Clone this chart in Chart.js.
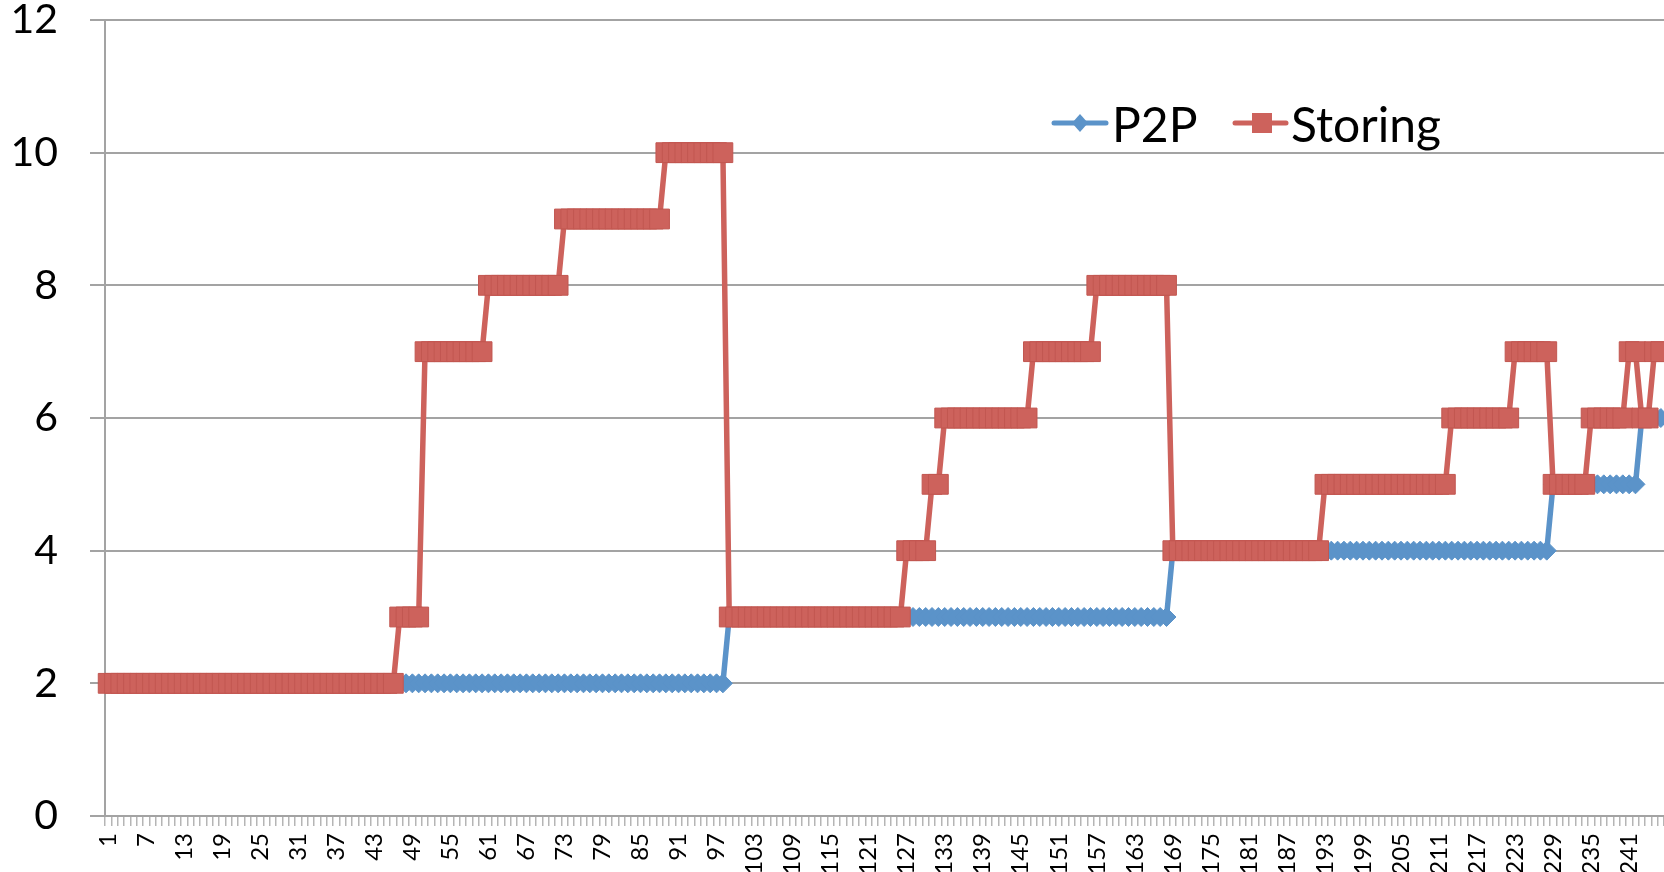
<!DOCTYPE html>
<html>
<head>
<meta charset="utf-8">
<script src="https://cdn.jsdelivr.net/npm/chart.js@4.4.1/dist/chart.umd.min.js"></script>
<style>
    html, body { margin: 0; padding: 0; background: #fff; overflow: hidden; }
    #wrap { width: 1664px; height: 872px; position: relative; }
</style>
</head>
<body>
<div id="wrap"><canvas id="chart"></canvas></div>
<script>
// Categories 1..246 (x axis is a plain counter)
const categories = Array.from({ length: 246 }, (_, i) => String(i + 1));

// P2P series (10 values per row)
const p2pValues = [
    2, 2, 2, 2, 2, 2, 2, 2, 2, 2,
    2, 2, 2, 2, 2, 2, 2, 2, 2, 2,
    2, 2, 2, 2, 2, 2, 2, 2, 2, 2,
    2, 2, 2, 2, 2, 2, 2, 2, 2, 2,
    2, 2, 2, 2, 2, 2, 2, 2, 2, 2,
    2, 2, 2, 2, 2, 2, 2, 2, 2, 2,
    2, 2, 2, 2, 2, 2, 2, 2, 2, 2,
    2, 2, 2, 2, 2, 2, 2, 2, 2, 2,
    2, 2, 2, 2, 2, 2, 2, 2, 2, 2,
    2, 2, 2, 2, 2, 2, 2, 2, 3, 3,
    3, 3, 3, 3, 3, 3, 3, 3, 3, 3,
    3, 3, 3, 3, 3, 3, 3, 3, 3, 3,
    3, 3, 3, 3, 3, 3, 3, 3, 3, 3,
    3, 3, 3, 3, 3, 3, 3, 3, 3, 3,
    3, 3, 3, 3, 3, 3, 3, 3, 3, 3,
    3, 3, 3, 3, 3, 3, 3, 3, 3, 3,
    3, 3, 3, 3, 3, 3, 3, 3, 4, 4,
    4, 4, 4, 4, 4, 4, 4, 4, 4, 4,
    4, 4, 4, 4, 4, 4, 4, 4, 4, 4,
    4, 4, 4, 4, 4, 4, 4, 4, 4, 4,
    4, 4, 4, 4, 4, 4, 4, 4, 4, 4,
    4, 4, 4, 4, 4, 4, 4, 4, 4, 4,
    4, 4, 4, 4, 4, 4, 4, 4, 5, 5,
    5, 5, 5, 5, 5, 5, 5, 5, 5, 5,
    5, 5, 6, 6, 6, 6
];

// Storing series
const storingValues = [
    2, 2, 2, 2, 2, 2, 2, 2, 2, 2,
    2, 2, 2, 2, 2, 2, 2, 2, 2, 2,
    2, 2, 2, 2, 2, 2, 2, 2, 2, 2,
    2, 2, 2, 2, 2, 2, 2, 2, 2, 2,
    2, 2, 2, 2, 2, 2, 3, 3, 3, 3,
    7, 7, 7, 7, 7, 7, 7, 7, 7, 7,
    8, 8, 8, 8, 8, 8, 8, 8, 8, 8,
    8, 8, 9, 9, 9, 9, 9, 9, 9, 9,
    9, 9, 9, 9, 9, 9, 9, 9, 10, 10,
    10, 10, 10, 10, 10, 10, 10, 10, 3, 3,
    3, 3, 3, 3, 3, 3, 3, 3, 3, 3,
    3, 3, 3, 3, 3, 3, 3, 3, 3, 3,
    3, 3, 3, 3, 3, 3, 4, 4, 4, 4,
    5, 5, 6, 6, 6, 6, 6, 6, 6, 6,
    6, 6, 6, 6, 6, 6, 7, 7, 7, 7,
    7, 7, 7, 7, 7, 7, 8, 8, 8, 8,
    8, 8, 8, 8, 8, 8, 8, 8, 4, 4,
    4, 4, 4, 4, 4, 4, 4, 4, 4, 4,
    4, 4, 4, 4, 4, 4, 4, 4, 4, 4,
    4, 4, 5, 5, 5, 5, 5, 5, 5, 5,
    5, 5, 5, 5, 5, 5, 5, 5, 5, 5,
    5, 5, 6, 6, 6, 6, 6, 6, 6, 6,
    6, 6, 7, 7, 7, 7, 7, 7, 5, 5,
    5, 5, 5, 5, 6, 6, 6, 6, 6, 6,
    7, 7, 6, 6, 7, 7
];

const yTicks = [0, 2, 4, 6, 8, 10, 12];
const seriesNames = ['P2P', 'Storing'];

const blue = '#5b93c9';
const red = '#cd625c';
const gridGray = '#a3a3a3';

// Legend sits inside the plot, Excel style
const insideLegend = {
    id: 'insideLegend',
    afterDraw(chart) {
        const ctx = chart.ctx;
        const y = 123;
        ctx.save();
        ctx.lineWidth = 5;
        ctx.lineCap = 'round';

        // P2P: line + diamond
        ctx.strokeStyle = blue;
        ctx.beginPath();
        ctx.moveTo(1054, y);
        ctx.lineTo(1106, y);
        ctx.stroke();
        ctx.fillStyle = blue;
        ctx.beginPath();
        ctx.moveTo(1080, y - 9);
        ctx.lineTo(1088, y);
        ctx.lineTo(1080, y + 9);
        ctx.lineTo(1072, y);
        ctx.closePath();
        ctx.fill();

        // Storing: line + square
        ctx.strokeStyle = red;
        ctx.beginPath();
        ctx.moveTo(1235, y);
        ctx.lineTo(1286, y);
        ctx.stroke();
        ctx.fillStyle = red;
        ctx.fillRect(1252, y - 10, 20, 20);

        ctx.fillStyle = '#000';
        ctx.font = '48px Lato';
        ctx.textBaseline = 'alphabetic';
        ctx.textAlign = 'left';
        ctx.fillText(seriesNames[0], 1112, 142);
        ctx.fillText(seriesNames[1], 1291, 142);
        ctx.restore();
    },
};

new Chart(document.getElementById('chart'), {
    type: 'line',
    data: {
        labels: categories,
        datasets: [
            {
                label: seriesNames[1],
                data: storingValues,
                borderColor: red,
                backgroundColor: red,
                borderWidth: 5.5,
                pointStyle: 'rect',
                pointRadius: 14,
                pointBackgroundColor: red,
                pointBorderColor: '#c25751',
                pointBorderWidth: 1,
                tension: 0,
                order: 0,
            },
            {
                label: seriesNames[0],
                data: p2pValues,
                borderColor: blue,
                backgroundColor: blue,
                borderWidth: 5.5,
                pointStyle: 'rectRot',
                pointRadius: 9.5,
                pointBackgroundColor: blue,
                pointBorderColor: blue,
                pointBorderWidth: 1,
                tension: 0,
                order: 1,
            },
        ],
    },
    options: {
        responsive: true,
        maintainAspectRatio: false,
        animation: false,
        layout: { autoPadding: false, padding: { top: 20, right: 0, left: 0, bottom: 0 } },
        plugins: {
            legend: { display: false },
            tooltip: { enabled: false },
        },
        scales: {
            x: {
                offset: true,
                grid: {
                    offset: true,
                    drawOnChartArea: false,
                    drawTicks: true,
                    tickLength: 10,
                    color: '#b5b5b5',
                    lineWidth: 1.5,
                },
                border: { display: true, color: gridGray, width: 2 },
                ticks: {
                    autoSkip: false,
                    minRotation: 90,
                    maxRotation: 90,
                    padding: 7,
                    color: '#000',
                    font: { family: 'Lato', size: 24 },
                    callback: (val, i) => (i % 6 === 0 ? categories[i] : ''),
                },
                afterFit(scale) {
                    scale.height = 56;
                    scale.paddingLeft = 0;
                    scale.paddingRight = 0;
                },
            },
            y: {
                min: 0,
                max: 12,
                afterBuildTicks(scale) {
                    scale.ticks = yTicks.map(v => ({ value: v }));
                },
                grid: {
                    color: gridGray,
                    lineWidth: 2,
                    drawTicks: true,
                    tickLength: 15,
                },
                border: { display: true, color: gridGray, width: 2 },
                ticks: {
                    padding: 32,
                    color: '#000',
                    font: { family: 'Lato', size: 41 },
                },
                afterFit(scale) {
                    scale.width = 105;
                    scale.paddingTop = 0;
                    scale.paddingBottom = 0;
                },
            },
        },
    },
    plugins: [insideLegend],
});
</script>
</body>
</html>
